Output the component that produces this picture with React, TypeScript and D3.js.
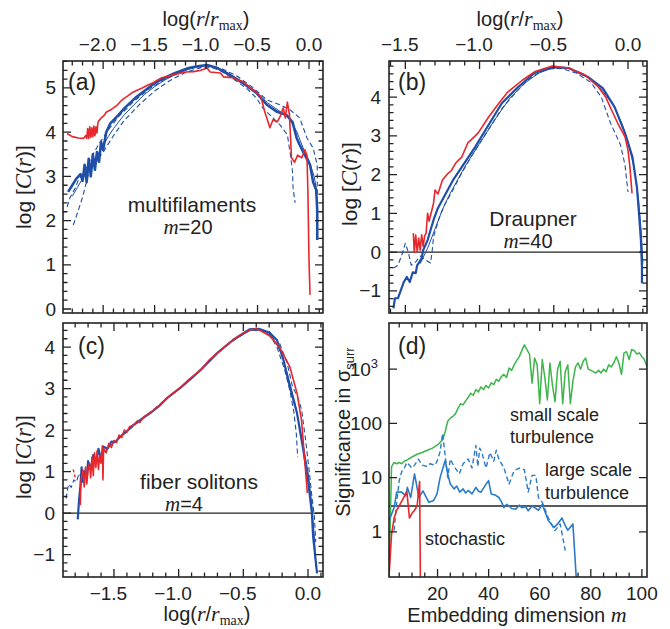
import React from 'react';
import * as d3 from 'd3';

const SANS = '"Liberation Sans", Arial, Helvetica, sans-serif';
const SERIF = '"Liberation Serif", "Times New Roman", serif';
const RED = '#e8262b';
const BLUE = '#1f4fa8';
const BLUE_D = '#2b7bc6';
const GREEN = '#3db54a';
const INK = '#222';

type P = [number, number];

// ---- panel (a): multifilaments, m=20 ----
const aRed: P[] = [
  [-2.35, 3.97], [-2.3, 3.9], [-2.24, 3.87], [-2.19, 3.86], [-2.17, 3.92], [-2.16, 3.86], [-2.15, 4.08], [-2.14, 3.86],
  [-2.13, 4.12], [-2.12, 3.88], [-2.11, 4.1], [-2.1, 3.9], [-2.09, 4.14], [-2.08, 3.92], [-2.07, 4.12], [-2.06, 3.98],
  [-2.05, 4.23], [-2.02, 4.32], [-1.99, 4.38], [-1.97, 4.45], [-1.93, 4.5], [-1.9, 4.55], [-1.86, 4.62], [-1.83, 4.7],
  [-1.8, 4.76], [-1.76, 4.82], [-1.72, 4.89], [-1.67, 4.95], [-1.62, 5.0], [-1.57, 5.06], [-1.52, 5.11], [-1.47, 5.18],
  [-1.43, 5.23], [-1.38, 5.26], [-1.33, 5.29], [-1.26, 5.33], [-1.2, 5.36], [-1.12, 5.37], [-1.05, 5.4], [-0.99, 5.45],
  [-0.96, 5.36], [-0.91, 5.35], [-0.86, 5.34], [-0.83, 5.25], [-0.78, 5.24], [-0.74, 5.23], [-0.69, 5.18], [-0.64, 5.14],
  [-0.57, 5.0], [-0.51, 4.91], [-0.47, 4.8], [-0.46, 4.73], [-0.43, 4.46], [-0.41, 4.32], [-0.38, 4.1], [-0.35, 4.28],
  [-0.31, 4.23], [-0.28, 4.36], [-0.25, 4.55], [-0.23, 4.32], [-0.21, 4.68], [-0.19, 4.4], [-0.17, 3.42], [-0.14, 3.32],
  [-0.11, 3.48], [-0.07, 3.42], [-0.04, 3.6], [-0.02, 3.48], [-0.01, 2.58], [0.0, 1.1], [0.01, 0.32],
];
const aBlue: P[] = [
  [-2.34, 2.65], [-2.3, 2.8], [-2.26, 2.95], [-2.22, 3.05], [-2.2, 2.9], [-2.18, 3.26], [-2.16, 2.87], [-2.14, 3.4],
  [-2.12, 3.0], [-2.1, 3.5], [-2.08, 3.15], [-2.06, 3.55], [-2.04, 3.33], [-2.02, 3.78], [-2.0, 3.6], [-1.97, 4.0],
  [-1.93, 4.2], [-1.85, 4.39], [-1.79, 4.55], [-1.69, 4.77], [-1.59, 4.95], [-1.5, 5.11], [-1.4, 5.23], [-1.3, 5.34],
  [-1.17, 5.45], [-1.08, 5.49], [-0.99, 5.52], [-0.89, 5.45], [-0.77, 5.29], [-0.64, 5.11], [-0.51, 4.89], [-0.41, 4.62],
  [-0.31, 4.46], [-0.22, 4.39], [-0.16, 4.23], [-0.12, 3.87], [-0.09, 3.71], [-0.04, 3.48], [0.01, 3.26], [0.04, 2.87],
  [0.07, 2.69], [0.08, 2.24], [0.08, 1.56],
];
const aBlueThin: P[] = [
  [-2.3, 2.55], [-2.25, 2.75], [-2.2, 2.95], [-2.15, 3.1], [-2.1, 3.35], [-2.05, 3.5], [-2.0, 3.7], [-1.95, 3.9],
  [-1.9, 4.08], [-1.8, 4.38], [-1.7, 4.62], [-1.6, 4.85], [-1.5, 5.03], [-1.4, 5.18], [-1.3, 5.3], [-1.2, 5.4],
  [-1.1, 5.47], [-1.0, 5.5], [-0.9, 5.47], [-0.8, 5.36], [-0.7, 5.22], [-0.6, 5.07], [-0.5, 4.88], [-0.4, 4.66],
  [-0.3, 4.5], [-0.2, 4.33], [-0.12, 4.02], [-0.06, 3.66], [0.0, 3.36], [0.05, 3.0], [0.08, 2.6],
];
const aDashUp: P[] = [
  [-2.35, 2.31], [-2.32, 2.53], [-2.27, 2.74], [-2.24, 2.92], [-2.19, 3.08], [-2.12, 3.4], [-2.05, 3.7], [-1.95, 4.05],
  [-1.85, 4.35], [-1.7, 4.7], [-1.55, 4.98], [-1.4, 5.2], [-1.25, 5.37], [-1.1, 5.47], [-0.98, 5.5], [-0.85, 5.44],
  [-0.7, 5.27], [-0.55, 5.02], [-0.41, 4.73], [-0.28, 4.62], [-0.18, 4.5], [-0.09, 4.32], [-0.02, 3.87], [0.04, 3.64],
  [0.06, 3.45], [0.08, 3.26], [0.08, 2.62],
];
const aDashLow: P[] = [
  [-2.29, 1.9], [-2.24, 2.24], [-2.2, 2.53], [-2.17, 2.8], [-2.14, 3.08], [-2.08, 3.3], [-2.0, 3.55], [-1.9, 3.92],
  [-1.8, 4.25], [-1.65, 4.62], [-1.5, 4.93], [-1.35, 5.17], [-1.2, 5.35], [-1.05, 5.46], [-0.95, 5.47], [-0.85, 5.38],
  [-0.72, 5.18], [-0.6, 4.98], [-0.51, 4.77], [-0.45, 4.55], [-0.38, 4.39], [-0.28, 4.16], [-0.21, 3.94], [-0.18, 3.48],
  [-0.16, 3.1], [-0.155, 2.74], [-0.135, 2.4],
];

// ---- panel (b): Draupner, m=40 ----
const bRed: P[] = [
  [-1.446, 0.49], [-1.44, 0.0], [-1.43, 0.44], [-1.42, 0.0], [-1.41, 0.36], [-1.4, 0.05], [-1.39, 0.45], [-1.38, 0.15],
  [-1.37, 0.42], [-1.36, 0.49], [-1.35, 1.0], [-1.34, 0.8], [-1.33, 0.95], [-1.31, 1.26], [-1.3, 1.6], [-1.28, 1.5],
  [-1.25, 1.86], [-1.23, 1.95], [-1.21, 2.04], [-1.19, 2.1], [-1.16, 2.3], [-1.14, 2.38], [-1.12, 2.45], [-1.08, 2.81],
  [-1.01, 3.07], [-0.94, 3.48], [-0.87, 3.84], [-0.81, 4.13], [-0.71, 4.44], [-0.63, 4.65], [-0.51, 4.8], [-0.4, 4.75],
  [-0.29, 4.57], [-0.2, 4.26], [-0.15, 4.0], [-0.11, 3.66], [-0.07, 3.33], [-0.02, 2.97], [0.0, 2.63], [0.013, 2.19],
  [0.027, 1.52],
];
const bBlue: P[] = [
  [-1.58, -1.45], [-1.57, -1.19], [-1.55, -1.19], [-1.51, -0.77], [-1.49, -0.64], [-1.47, -0.77], [-1.45, -0.52],
  [-1.43, -0.54], [-1.42, -0.34], [-1.39, -0.16], [-1.38, 0.05], [-1.35, 0.31], [-1.33, 0.57], [-1.31, 0.83],
  [-1.28, 1.14], [-1.24, 1.42], [-1.18, 1.85], [-1.12, 2.19], [-1.03, 2.71], [-0.96, 3.15], [-0.85, 3.84], [-0.74, 4.26],
  [-0.63, 4.62], [-0.51, 4.77], [-0.4, 4.75], [-0.27, 4.52], [-0.17, 4.23], [-0.09, 3.74], [-0.02, 3.07], [0.03, 2.45],
  [0.06, 1.68], [0.074, 1.0], [0.087, 0.31], [0.094, -0.39], [0.094, -0.8],
];
const bBlueThin: P[] = [
  [-1.4, -0.3], [-1.35, 0.1], [-1.3, 0.6], [-1.25, 1.1], [-1.2, 1.5], [-1.1, 2.2], [-1.0, 2.8], [-0.9, 3.4],
  [-0.8, 3.95], [-0.7, 4.35], [-0.6, 4.62], [-0.5, 4.76], [-0.4, 4.74], [-0.3, 4.6], [-0.2, 4.3], [-0.1, 3.8],
  [-0.04, 3.3], [0.0, 2.85], [0.04, 2.2], [0.07, 1.4], [0.09, 0.5], [0.1, -0.3],
];
const bDash: P[] = [
  [-1.58, -0.41], [-1.55, -0.34], [-1.52, -0.03], [-1.5, 0.23], [-1.48, 0.0], [-1.46, -0.34], [-1.43, -0.25],
  [-1.4, -0.1], [-1.36, -0.21], [-1.33, -0.28], [-1.32, 0.0], [-1.31, 0.39], [-1.29, 0.65], [-1.27, 0.9], [-1.23, 1.26],
  [-1.18, 1.6], [-1.12, 2.04], [-1.05, 2.5], [-0.95, 3.1], [-0.85, 3.7], [-0.75, 4.15], [-0.65, 4.52], [-0.55, 4.72],
  [-0.45, 4.74], [-0.35, 4.62], [-0.25, 4.38], [-0.18, 4.0], [-0.12, 3.35], [-0.05, 2.76], [-0.02, 2.24], [0.0, 1.55],
];

// ---- panel (c): fiber solitons, m=4 ----
const cRed: P[] = [
  [-1.76, 0.19], [-1.755, 0.8], [-1.74, 1.04], [-1.73, 0.63], [-1.72, 1.11], [-1.71, 0.7], [-1.7, 1.04], [-1.69, 1.2],
  [-1.68, 0.85], [-1.67, 1.35], [-1.66, 0.9], [-1.65, 1.45], [-1.64, 1.1], [-1.63, 1.5], [-1.62, 1.05], [-1.61, 1.4],
  [-1.6, 1.2], [-1.59, 1.62], [-1.585, 0.8], [-1.58, 1.55], [-1.56, 1.45], [-1.54, 1.68], [-1.52, 1.58], [-1.5, 1.75],
  [-1.48, 1.7], [-1.46, 1.88], [-1.44, 1.82], [-1.42, 2.0], [-1.4, 1.95], [-1.38, 2.08], [-1.35, 2.12], [-1.32, 2.22],
  [-1.3, 2.18], [-1.27, 2.32], [-1.24, 2.38], [-1.22, 2.41], [-1.18, 2.52], [-1.14, 2.62], [-1.09, 2.77], [-1.04, 2.9],
  [-0.99, 3.01], [-0.92, 3.22], [-0.83, 3.45], [-0.76, 3.7], [-0.7, 3.86], [-0.64, 4.02], [-0.58, 4.17], [-0.52, 4.3],
  [-0.45, 4.41], [-0.4, 4.44], [-0.37, 4.4], [-0.3, 4.28], [-0.22, 4.0], [-0.14, 3.52], [-0.085, 2.89], [-0.05, 2.24],
  [-0.03, 1.45], [-0.005, 0.48],
];
const cRedDot: P[] = [[-1.815, 1.05], [-1.805, 0.92], [-1.795, 0.82]];
const cBlue: P[] = [
  [-1.78, -0.15], [-1.77, 0.31], [-1.76, 0.63], [-1.75, 1.1], [-1.74, 0.75], [-1.73, 1.0], [-1.71, 0.85], [-1.7, 1.25],
  [-1.68, 1.05], [-1.66, 1.4], [-1.64, 1.2], [-1.62, 1.55], [-1.6, 1.3], [-1.58, 1.6], [-1.55, 1.55], [-1.52, 1.72],
  [-1.49, 1.71], [-1.45, 1.85], [-1.4, 1.97], [-1.35, 2.12], [-1.28, 2.28], [-1.22, 2.41], [-1.15, 2.58], [-1.09, 2.77],
  [-0.99, 3.01], [-0.9, 3.25], [-0.83, 3.45], [-0.7, 3.86], [-0.58, 4.17], [-0.45, 4.43], [-0.38, 4.44], [-0.3, 4.35],
  [-0.24, 4.17], [-0.19, 3.69], [-0.14, 3.04], [-0.085, 2.41], [-0.04, 1.59], [0.0, 0.8], [0.03, 0.0], [0.04, -0.58],
  [0.07, -1.45],
];
const cBlueThin: P[] = [
  [-0.6, 4.12], [-0.45, 4.4], [-0.35, 4.42], [-0.27, 4.22], [-0.2, 3.82], [-0.15, 3.25], [-0.1, 2.65], [-0.05, 1.85],
  [0.0, 1.0], [0.03, 0.2], [0.05, -0.6], [0.06, -1.3],
];
const cDashLow: P[] = [
  [-1.87, 0.35], [-1.86, 0.55], [-1.85, 0.7], [-1.83, 0.62], [-1.81, 0.8], [-1.79, 0.75], [-1.77, 0.95], [-1.75, 0.85],
  [-1.72, 1.05], [-1.68, 1.15], [-1.62, 1.35], [-1.55, 1.55], [-1.45, 1.85], [-1.3, 2.22], [-1.1, 2.74], [-0.9, 3.25],
  [-0.7, 3.85], [-0.55, 4.22], [-0.45, 4.4], [-0.36, 4.4], [-0.3, 4.32], [-0.24, 4.0], [-0.18, 3.45], [-0.14, 2.95],
  [-0.11, 2.45], [-0.09, 1.9], [-0.08, 1.35],
];
const cDashUp: P[] = [
  [-0.3, 4.38], [-0.22, 4.1], [-0.16, 3.6], [-0.12, 3.05], [-0.08, 2.8], [-0.05, 2.5], [-0.02, 1.8], [0.01, 1.0],
  [0.03, 0.4], [0.05, -0.1], [0.06, -0.7],
];

// ---- panel (d): significance vs embedding dimension ----
const dGreen: P[] = [
  [1, 0.15], [2, 16], [3, 19], [4, 18], [5, 19], [6, 18], [7, 20], [8, 21], [10, 24], [12, 27], [14, 29], [16, 32],
  [18, 35], [20, 40], [22, 50], [23, 70], [24, 110], [25, 125], [26, 135], [27, 150], [28, 190], [29, 230], [30, 220],
  [31, 260], [32, 300], [33, 360], [34, 330], [35, 420], [36, 380], [37, 470], [38, 420], [39, 500], [40, 450],
  [41, 560], [42, 520], [43, 650], [44, 600], [45, 730], [46, 800], [47, 700], [48, 1050], [49, 950], [50, 1200],
  [51, 1450], [52, 1700], [53, 2200], [54, 2800], [55, 2300], [56, 1900], [57, 550], [58, 1600], [59, 1200], [60, 230],
  [61, 1500], [62, 700], [63, 270], [64, 1300], [65, 500], [66, 250], [67, 1000], [68, 1400], [69, 230], [70, 900],
  [71, 1200], [72, 230], [73, 600], [74, 1100], [75, 1300], [76, 1000], [77, 1400], [78, 1600], [79, 1000], [80, 950],
  [81, 900], [82, 850], [83, 950], [84, 850], [85, 1000], [86, 900], [87, 1200], [88, 1100], [89, 1300], [90, 1700],
  [91, 1300], [92, 800], [93, 2000], [94, 2100], [95, 1500], [96, 2300], [97, 2200], [98, 1900], [99, 2000],
  [100, 1700], [101, 1500], [102, 1100],
];
const dBlue: P[] = [
  [1, 1.6], [3, 2.8], [4, 5.4], [6, 5.4], [7.5, 4.6], [8.2, 6.6], [9.5, 4.3], [11, 11.7], [12.7, 4.3], [14.3, 5.7],
  [16.6, 3.5], [18.5, 3.8], [19.8, 5.0], [21, 10], [23, 20.6], [24, 11.7], [25, 7.6], [26.5, 6.2], [27.5, 7.0],
  [28.7, 5.4], [30, 6.2], [31, 5.2], [32, 5.8], [33.5, 5.0], [35, 6.6], [36, 5.6], [37, 5.4], [38, 6.4], [39, 7.6],
  [40, 8.8], [41, 5.0], [42.5, 4.8], [44, 4.3], [45, 3.6], [46, 2.8], [47, 3.2], [48, 3.0], [49, 2.7], [50.5, 2.6],
  [52, 3.1], [53, 2.8], [54.5, 2.9], [55.5, 2.45], [57, 3.0], [58, 2.8], [59.5, 2.5], [61, 3.2], [62, 2.4], [63.4, 1.6],
  [64.5, 1.4], [65.5, 1.2], [67, 1.4], [68.7, 1.8], [70, 1.3], [71, 1.07], [73, 1.4], [74.5, 0.1],
];
const dBlueDash: P[] = [
  [3, 1.05], [4, 3.5], [5, 8.8], [6, 13], [7, 15], [8, 19], [10, 15], [11, 17], [12.5, 22], [14, 17], [16, 16], [17, 18],
  [19, 17], [20, 21], [21, 30], [22, 65], [23, 25], [24, 10], [25, 22], [26.5, 16], [28.5, 11.7], [30, 18], [32, 22],
  [33.5, 15], [35, 39], [35.8, 16], [36.5, 35], [37.4, 29], [38, 22], [39, 15], [40.5, 29], [42, 20], [43, 32],
  [44, 22], [46, 15], [48, 7.6], [50, 13.5], [52, 15], [54, 14], [55.5, 5.4], [57, 11], [58.5, 11], [59.5, 4.3],
  [61, 3.5], [63.4, 1.8], [66, 1.05], [68, 1.4], [69, 0.8], [70, 0.45],
];
const dRed: P[] = [
  [1, 0.15], [2, 0.9], [3, 1.8], [4, 2.5], [5, 3.0], [6, 3.7], [7, 4.5], [8, 5.5], [9, 1.8], [10, 2.2], [11, 2.5],
  [12, 3.0], [13, 8.5], [13.3, 0.1],
];

// tick label values
const aXTicks = [-2.0, -1.5, -1.0, -0.5, 0.0];
const aYTicks = [0, 1, 2, 3, 4, 5];
const bXTicks = [-1.5, -1.0, -0.5, 0.0];
const bYTicks = [-1, 0, 1, 2, 3, 4];
const cXTicks = [-1.5, -1.0, -0.5, 0.0];
const cYTicks = [-1, 0, 1, 2, 3, 4];
const dXTicks = [20, 40, 60, 80, 100];
const dYTicks = [1, 10, 100, 1000];
const zeroLevel = 0;
const sigmaLevel = 3;

type Lin = d3.ScaleLinear<number, number> | d3.ScaleLogarithmic<number, number>;

const ax = d3.scaleLinear().domain([-2.39, 0.136]).range([63, 323]);
const ay = d3.scaleLinear().domain([-0.09, 5.61]).range([313, 61]);
const bx = d3.scaleLinear().domain([-1.61, 0.128]).range([389, 647]);
const by = d3.scaleLinear().domain([-1.57, 4.93]).range([313, 61]);
const cx = d3.scaleLinear().domain([-1.894, 0.116]).range([63, 323]);
const cy = d3.scaleLinear().domain([-1.54, 4.58]).range([577, 323]);
const dx = d3.scaleLinear().domain([1, 102]).range([389, 647]);
const dy = d3.scaleLog().domain([0.147, 7100]).range([577, 323]);

const minorVals = (lo: number, hi: number, step: number, major: number[]) =>
  d3.range(Math.round(lo / step), Math.round(hi / step) + 1)
    .map(k => +(k * step).toFixed(4))
    .filter(v => !major.some(m => Math.abs(m - v) < 1e-6));

function Ticks({ xs, ys, xMajor, xMinor, yMajor, yMinor }:
  { xs: Lin; ys: Lin; xMajor: number[]; xMinor: number[]; yMajor: number[]; yMinor: number[] }) {
  const [l, r] = xs.range();
  const [b, t] = ys.range();
  let d = '';
  xMajor.forEach(v => { const p = xs(v); d += `M${p},${b}v-8M${p},${t}v8`; });
  xMinor.forEach(v => { const p = xs(v); d += `M${p},${b}v-4.5M${p},${t}v4.5`; });
  yMajor.forEach(v => { const p = ys(v); d += `M${l},${p}h8M${r},${p}h-8`; });
  yMinor.forEach(v => { const p = ys(v); d += `M${l},${p}h4.5M${r},${p}h-4.5`; });
  return (
    <g>
      <path d={d} stroke={INK} strokeWidth={1.3} fill="none" />
      <rect x={l} y={t} width={r - l} height={b - t} fill="none" stroke={INK} strokeWidth={1.6} />
    </g>
  );
}

const FS = 19;
// digits are centred on the tick, the minus sign hangs to the left
function XLabels({ xs, vals, y }: { xs: Lin; vals: number[]; y: number }) {
  const half = (0.556 * 2 + 0.278) * FS / 2;
  return (
    <g fontFamily={SANS} fontSize={FS} fill={INK}>
      {vals.map(v => (
        <text key={v} x={xs(v) + half} y={y} textAnchor="end">
          {(v < 0 ? '\u2212' : '') + Math.abs(v).toFixed(1)}
        </text>
      ))}
    </g>
  );
}

function YLabels({ ys, vals, x }: { ys: Lin; vals: number[]; x: number }) {
  return (
    <g fontFamily={SANS} fontSize={FS} fill={INK}>
      {vals.map(v => (
        <text key={v} x={x} y={ys(v) + 6.5} textAnchor="end">
          {(v < 0 ? '\u2212' : '') + Math.abs(v)}
        </text>
      ))}
    </g>
  );
}

function RTitle({ x, y }: { x: number; y: number }) {
  return (
    <text x={x} y={y} textAnchor="middle" fontFamily={SANS} fontSize={20} fill={INK}>
      log(<tspan fontFamily={SERIF} fontStyle="italic" fontSize={22}>r</tspan>/<tspan fontFamily={SERIF} fontStyle="italic" fontSize={22}>r</tspan>
      <tspan fontFamily={SERIF} fontSize={14} dy={4}>max</tspan><tspan dy={-4}>)</tspan>
    </text>
  );
}

function CTitle({ x, y }: { x: number; y: number }) {
  return (
    <text transform={`translate(${x},${y}) rotate(-90)`} textAnchor="middle" fontFamily={SANS} fontSize={21} fill={INK}>
      log [<tspan fontFamily={SERIF} fontStyle="italic" fontSize={23}>C</tspan>(<tspan fontFamily={SERIF} fontStyle="italic" fontSize={23}>r</tspan>)]
    </text>
  );
}

function Curve({ data, xs, ys, color, width, dash, clip }:
  { data: P[]; xs: Lin; ys: Lin; color: string; width: number; dash?: string; clip: string }) {
  const line = d3.line<P>().x(d => xs(d[0])).y(d => ys(d[1]));
  return (
    <path d={line(data) ?? ''} fill="none" stroke={color} strokeWidth={width} strokeDasharray={dash}
      strokeLinejoin="round" clipPath={`url(#${clip})`} />
  );
}

function Label({ x, y, children, size = 20, anchor = 'middle' }:
  { x: number; y: number; children: React.ReactNode; size?: number; anchor?: string }) {
  return (
    <text x={x} y={y} textAnchor={anchor as any} fontFamily={SANS} fontSize={size} fill={INK}>{children}</text>
  );
}

const mEq = (n: string) => (
  <>
    <tspan fontFamily={SERIF} fontStyle="italic" fontSize={21}>m</tspan>={n}
  </>
);

export default function App() {
  const clips: [string, Lin, Lin][] = [['ca', ax, ay], ['cb', bx, by], ['cc', cx, cy], ['cd', dx, dy]];
  return (
    <svg width={670} height={629} viewBox="0 0 670 629"
      style={{ position: 'absolute', left: 0, top: 0, background: '#fff' }}>
      <defs>
        {clips.map(([id, xs, ys]) => {
          const [l, r] = xs.range();
          const [b, t] = ys.range();
          return (
            <clipPath id={id} key={id}>
              <rect x={l} y={t} width={r - l} height={b - t} />
            </clipPath>
          );
        })}
      </defs>
      <rect width={670} height={629} fill="#fff" />

      {/* (a) */}
      <Curve data={aDashUp} xs={ax} ys={ay} color={BLUE} width={1.1} dash="5,3" clip="ca" />
      <Curve data={aDashLow} xs={ax} ys={ay} color={BLUE} width={1.1} dash="5,3" clip="ca" />
      <Curve data={aBlueThin} xs={ax} ys={ay} color={BLUE} width={1} clip="ca" />
      <Curve data={aBlue} xs={ax} ys={ay} color={BLUE} width={2.6} clip="ca" />
      <Curve data={aRed} xs={ax} ys={ay} color={RED} width={1.6} clip="ca" />
      <Ticks xs={ax} ys={ay} xMajor={aXTicks} xMinor={minorVals(-2.3, 0.1, 0.1, aXTicks)}
        yMajor={aYTicks} yMinor={minorVals(0, 5.6, 0.2, aYTicks)} />
      <XLabels xs={ax} vals={aXTicks} y={51} />
      <YLabels ys={ay} vals={aYTicks} x={56} />
      <RTitle x={206} y={26} />
      <CTitle x={31} y={187} />
      <Label x={68} y={90} size={23} anchor="start">(a)</Label>
      <Label x={192} y={212} size={21}>multifilaments</Label>
      <Label x={188} y={234} size={20}>{mEq('20')}</Label>

      {/* (b) */}
      <line x1={389} x2={647} y1={by(zeroLevel)} y2={by(zeroLevel)} stroke={INK} strokeWidth={1.4} />
      <Curve data={bDash} xs={bx} ys={by} color={BLUE} width={1.1} dash="5,3" clip="cb" />
      <Curve data={bBlueThin} xs={bx} ys={by} color={BLUE} width={1} clip="cb" />
      <Curve data={bBlue} xs={bx} ys={by} color={BLUE} width={2.2} clip="cb" />
      <Curve data={bRed} xs={bx} ys={by} color={RED} width={1.6} clip="cb" />
      <Ticks xs={bx} ys={by} xMajor={bXTicks} xMinor={minorVals(-1.6, 0.1, 0.1, bXTicks)}
        yMajor={bYTicks} yMinor={minorVals(-1.4, 4.8, 0.2, bYTicks)} />
      <XLabels xs={bx} vals={bXTicks} y={51} />
      <YLabels ys={by} vals={bYTicks} x={381} />
      <RTitle x={520} y={26} />
      <CTitle x={357} y={184} />
      <Label x={398} y={90} size={23} anchor="start">(b)</Label>
      <Label x={533} y={226} size={21}>Draupner</Label>
      <Label x={528} y={248} size={20}>{mEq('40')}</Label>

      {/* (c) */}
      <line x1={63} x2={323} y1={cy(zeroLevel)} y2={cy(zeroLevel)} stroke={INK} strokeWidth={1.4} />
      <Curve data={cDashLow} xs={cx} ys={cy} color={BLUE} width={1.1} dash="5,3" clip="cc" />
      <Curve data={cDashUp} xs={cx} ys={cy} color={BLUE} width={1.1} dash="5,3" clip="cc" />
      <Curve data={cBlueThin} xs={cx} ys={cy} color={BLUE} width={1} clip="cc" />
      <Curve data={cBlue} xs={cx} ys={cy} color={BLUE} width={2.2} clip="cc" />
      <Curve data={cRedDot} xs={cx} ys={cy} color={RED} width={1.4} dash="3,2" clip="cc" />
      <Curve data={cRed} xs={cx} ys={cy} color={RED} width={1.6} clip="cc" />
      <Ticks xs={cx} ys={cy} xMajor={cXTicks} xMinor={minorVals(-1.8, 0.1, 0.1, cXTicks)}
        yMajor={cYTicks} yMinor={minorVals(-1.4, 4.4, 0.2, cYTicks)} />
      <XLabels xs={cx} vals={cXTicks} y={600} />
      <YLabels ys={cy} vals={cYTicks} x={55} />
      <RTitle x={207} y={621} />
      <CTitle x={31} y={457} />
      <Label x={78} y={354} size={23} anchor="start">(c)</Label>
      <Label x={199} y={489} size={21}>fiber solitons</Label>
      <Label x={184} y={511} size={20}>{mEq('4')}</Label>

      {/* (d) */}
      <line x1={389} x2={647} y1={dy(sigmaLevel)} y2={dy(sigmaLevel)} stroke={INK} strokeWidth={1.4} />
      <Curve data={dGreen} xs={dx} ys={dy} color={GREEN} width={1.5} clip="cd" />
      <Curve data={dBlueDash} xs={dx} ys={dy} color={BLUE_D} width={1.4} dash="5,3" clip="cd" />
      <Curve data={dBlue} xs={dx} ys={dy} color={BLUE_D} width={1.6} clip="cd" />
      <Curve data={dRed} xs={dx} ys={dy} color={RED} width={1.6} clip="cd" />
      <Ticks xs={dx} ys={dy} xMajor={dXTicks} xMinor={minorVals(5, 100, 5, dXTicks)}
        yMajor={dYTicks} yMinor={[]} />
      <g fontFamily={SANS} fontSize={FS} fill={INK}>
        {dXTicks.map(v => (
          <text key={v} x={dx(v)} y={600} textAnchor="middle">{v}</text>
        ))}
        {dYTicks.map(v => (
          <text key={v} x={v === 1000 ? 378 : 382} y={dy(v) + 6.5} textAnchor="end">
            {v === 1000 ? <>10<tspan fontSize={13} dy={-8}>3</tspan></> : v}
          </text>
        ))}
      </g>
      <text x={517} y={622} textAnchor="middle" fontFamily={SANS} fontSize={20} fill={INK}>
        Embedding dimension <tspan fontFamily={SERIF} fontStyle="italic" fontSize={22}>m</tspan>
      </text>
      <text transform="translate(350,432) rotate(-90)" textAnchor="middle" fontFamily={SANS} fontSize={20} fill={INK}>
        Significance in σ<tspan fontSize={13} dy={4}>surr</tspan>
      </text>
      <Label x={398} y={354} size={23} anchor="start">(d)</Label>
      <Label x={510} y={421} size={18} anchor="start">small scale</Label>
      <Label x={510} y={443} size={18} anchor="start">turbulence</Label>
      <Label x={545} y={476} size={18} anchor="start">large scale</Label>
      <Label x={545} y={499} size={18} anchor="start">turbulence</Label>
      <Label x={425} y={545} size={18} anchor="start">stochastic</Label>
    </svg>
  );
}
